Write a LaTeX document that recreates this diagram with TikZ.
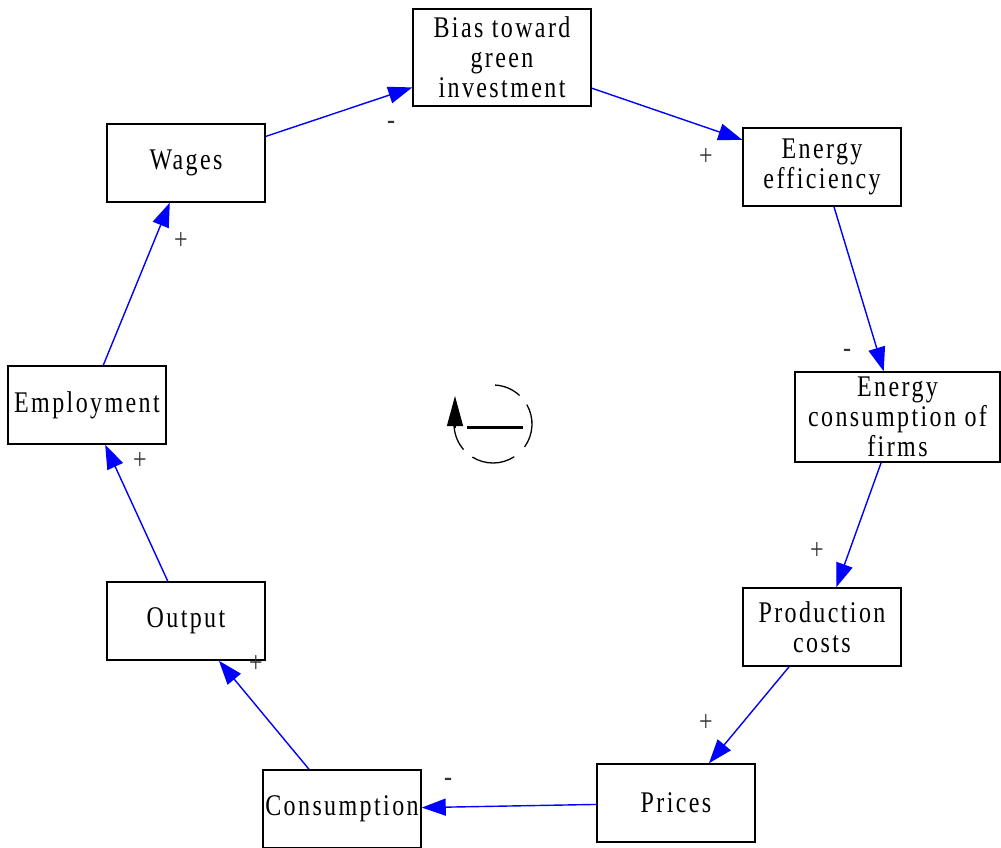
\documentclass[tikz,border=0pt]{standalone}
\usepackage{fontspec}
\setmainfont{Liberation Serif}[LetterSpace=8, FakeStretch=0.8]
\usetikzlibrary{arrows.meta}

\begin{document}
\begin{tikzpicture}[x=1pt, y=-1pt,
  var/.style={draw, line width=1.5pt, minimum width=158pt, minimum height=78pt,
              align=center, inner sep=1pt, font=\fontsize{30}{30}\selectfont},
  link/.style={-{Triangle[length=24pt,width=17pt]}, blue, line width=1.4pt},
  sign/.style={font=\fontsize{30}{30}\selectfont, text=black!80, inner sep=0pt},
  loopline/.style={line width=1.3pt}
]
\fill[white] (0,0) rectangle (1001,847);
\useasboundingbox (0,0) rectangle (1001,847);

% variables of the loop
\node[var, minimum width=178pt, minimum height=97pt] (bias) at (502,57.5) {Bias toward\\green\\investment};
\node[var] (eff)  at (822,167) {Energy\\efficiency};
\node[var, minimum width=205pt, minimum height=90pt] (cons) at (897.5,417) {Energy\\consumption of\\firms};
\node[var] (cost) at (822,627) {Production\\costs};
\node[var] (pri)  at (676,803) {Prices};
\node[var] (consum) at (342,809) {Consumption};
\node[var] (out)  at (186,621) {Output};
\node[var] (emp)  at (87,405)  {Employment};
\node[var] (wag)  at (186,163) {Wages};

% causal links
\draw[link] (wag) -- (bias);
\draw[link] (bias) -- (eff);
\draw[link] (eff) -- (cons);
\draw[link] (cons) -- (cost);
\draw[link] (cost) -- (pri);
\draw[link] (pri) -- (consum);
\draw[link] (consum) -- (out);
\draw[link] (out) -- (emp);
\draw[link] (emp) -- (wag);

% polarities
\node[sign] (s1) at (391,125) {-};
\node[sign] (s2) at (706,157) {+};
\node[sign] (s3) at (847,353) {-};
\node[sign] (s4) at (817,551) {+};
\node[sign] (s5) at (706,723) {+};
\node[sign] (s6) at (448,782) {-};
\node[sign] (s7) at (256,664) {+};
\node[sign] (s8) at (140,461) {+};
\node[sign] (s9) at (181,241) {+};

% loop marker
\coordinate (loop) at (493,424);
\draw[loopline] ([shift={(-87:39)}]loop) arc[start angle=-87, end angle=-47, radius=39];
\draw[loopline] ([shift={(-30:39)}]loop) arc[start angle=-30, end angle=36, radius=39];
\draw[loopline] ([shift={(57:39)}]loop) arc[start angle=57, end angle=122, radius=39];
\draw[loopline] ([shift={(139:39)}]loop) arc[start angle=139, end angle=180, radius=39];
\draw[-{Triangle[length=30pt,width=16pt]}, line width=1.2pt] (455,428) -- (455,396);
\draw[line width=3pt] (467,427) -- (523,427);
\end{tikzpicture}
\end{document}
